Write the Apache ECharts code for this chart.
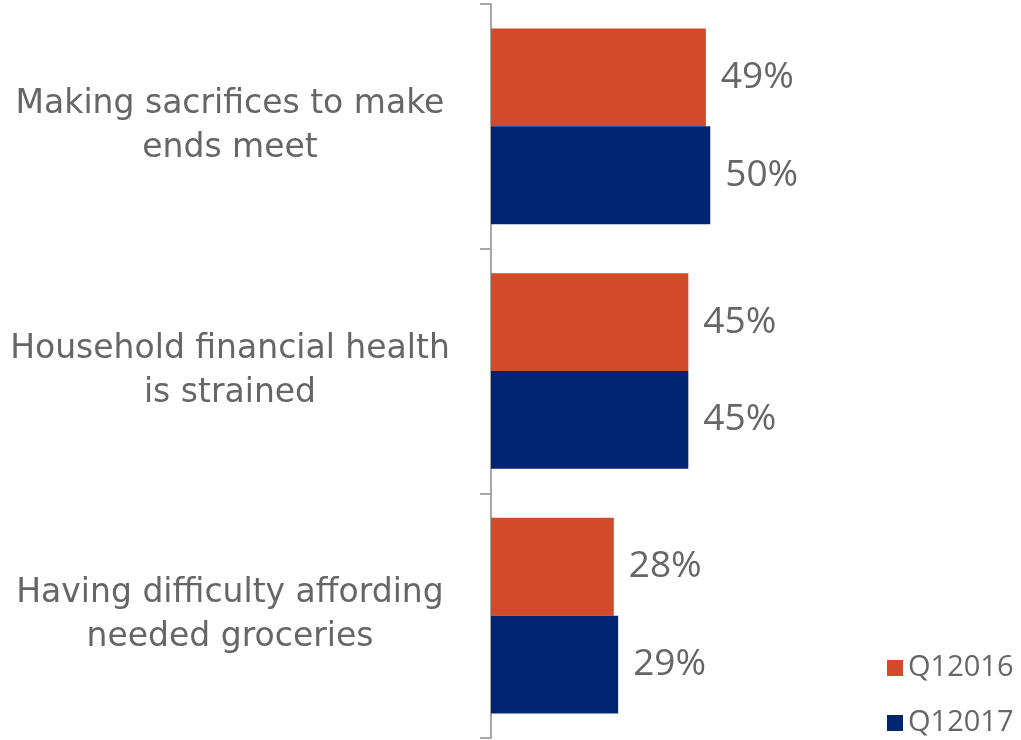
<!DOCTYPE html>
<html><head><meta charset="utf-8">
<script src="https://cdn.jsdelivr.net/npm/echarts@6/dist/echarts.min.js"></script>
<style>html,body{margin:0;padding:0;background:#fff}#c{width:1021px;height:740px}</style>
</head><body><div id="c"></div>
<script>
const categories = ["Making sacrifices to make\nends meet", "Household financial health\nis strained", "Having difficulty affording\nneeded groceries"];
const seriesNames = ["Q12016", "Q12017"];
const q2016 = [49, 45, 28];
const q2017 = [50, 45, 29];

const FONT = 'Open Sans';
const CAT_FONT = 'DejaVu Sans';
const chart = echarts.init(document.getElementById('c'));
const labelStyle = {show: true, position: 'right', distance: 15, formatter: '{c}%', color: '#666666', fontSize: 37, fontFamily: FONT};
const legendText = {color: '#666666', fontSize: 29, fontFamily: FONT, lineHeight: 30};
chart.setOption({
  animation: false,
  grid: {left: 491, top: 4, bottom: 2, width: 438.5, containLabel: false},
  legend: [
    {orient: 'vertical', left: 882, top: 648, itemWidth: 16, itemHeight: 16, icon: 'rect', textStyle: legendText, data: [seriesNames[0]]},
    {orient: 'vertical', left: 882, top: 703, itemWidth: 16, itemHeight: 16, icon: 'rect', textStyle: legendText, data: [seriesNames[1]]}
  ],
  xAxis: {type: 'value', min: 0, max: 100, show: false},
  yAxis: {
    type: 'category', inverse: true, data: categories,
    axisLine: {show: true, lineStyle: {color: '#A6A6A6', width: 2}},
    axisTick: {show: true, length: 11, lineStyle: {color: '#A6A6A6', width: 2}},
    axisLabel: {
      margin: 36, color: '#666666', fontSize: 33, fontFamily: CAT_FONT, lineHeight: 44,
      formatter: v => v.split('\n').map(s => '{a|' + s + '}').join('\n'),
      rich: {a: {width: 450, align: 'center', color: '#666666', fontSize: 33, fontFamily: CAT_FONT, lineHeight: 44}}
    }
  },
  series: [
    {name: seriesNames[0], type: 'bar', data: q2016, barGap: '0%', barCategoryGap: '20%', itemStyle: {color: '#D24A29'}, label: labelStyle},
    {name: seriesNames[1], type: 'bar', data: q2017, itemStyle: {color: '#002673'}, label: labelStyle}
  ]
});
</script></body></html>
